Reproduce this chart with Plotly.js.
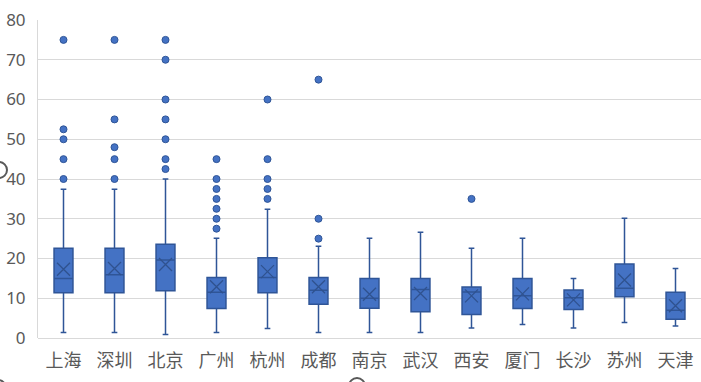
<!DOCTYPE html>
<html>
<head>
<meta charset="utf-8">
<script src="https://cdn.plot.ly/plotly-3.0.1.min.js"></script>
<style>html,body{margin:0;padding:0;background:#fff;}#chart{width:701px;height:382px;}</style>
</head>
<body>
<div id="chart"></div>
<script>
const cities = ["上海","深圳","北京","广州","杭州","成都","南京","武汉","西安","厦门","长沙","苏州","天津"];
const lowerFence = [1.4, 1.4, 0.9, 1.4, 2.4, 1.4, 1.4, 1.4, 2.5, 3.4, 2.5, 3.9, 3.0];
const q1Values   = [11.4, 11.4, 11.9, 7.4, 11.4, 8.5, 7.5, 6.6, 5.9, 7.4, 7.2, 10.4, 4.7];
const medians    = [15.0, 15.9, 19.6, 11.5, 15.2, 12.0, 10.0, 12.2, 11.6, 10.6, 10.1, 12.5, 7.0];
const q3Values   = [22.6, 22.6, 23.6, 15.2, 20.2, 15.2, 15.0, 15.0, 12.8, 15.0, 12.1, 18.6, 11.5];
const upperFence = [37.4, 37.4, 40.0, 25.1, 32.4, 23.1, 25.1, 26.6, 22.6, 25.1, 15.0, 30.1, 17.5];
const means      = [17.3, 17.5, 18.5, 12.9, 16.7, 12.9, 11.0, 11.2, 10.6, 11.1, 9.6, 14.6, 8.1];
const outliers   = [
  [75, 52.5, 50, 45, 40],
  [75, 55, 48, 45, 40],
  [75, 70, 60, 55, 50, 45, 42.5],
  [45, 40, 37.5, 35, 32.5, 30, 27.5],
  [60, 45, 40, 37.5, 35],
  [65, 30, 25],
  [], [], [35], [], [], [], []
];
const yTicks = [0, 10, 20, 30, 40, 50, 60, 70, 80];

const outX = [], outY = [];
outliers.forEach((arr, i) => arr.forEach(v => { outX.push(cities[i]); outY.push(v); }));

const traces = [
  {
    type: 'box',
    x: cities,
    q1: q1Values, median: medians, q3: q3Values,
    lowerfence: lowerFence, upperfence: upperFence,
    boxpoints: false,
    fillcolor: '#4472C4',
    line: {color: '#2F5597', width: 1.5},
    whiskerwidth: 0.3,
    hoverinfo: 'skip',
    showlegend: false
  },
  {
    type: 'scatter', mode: 'markers',
    x: cities, y: means,
    marker: {symbol: 'x-thin-open', size: 13, color: '#2F528F', line: {color: '#2F528F', width: 1.3}},
    hoverinfo: 'skip', showlegend: false
  },
  {
    type: 'scatter', mode: 'markers',
    x: outX, y: outY,
    marker: {symbol: 'circle', size: 7, color: '#4472C4', line: {color: '#2F5597', width: 1}},
    hoverinfo: 'skip', showlegend: false
  }
];

const L = 38, T = 20, W = 663, H = 318;
function px(x) { return (x - L) / W; }
function py(y) { return (T + H - y) / H; }
function handle(cx, cy, r) {
  return {type: 'circle', xref: 'paper', yref: 'paper',
    x0: px(cx - r), x1: px(cx + r), y0: py(cy + r), y1: py(cy - r),
    fillcolor: 'white', line: {color: '#595959', width: 2}};
}

const layout = {
  width: 701, height: 382,
  margin: {l: L, r: 0, t: T, b: 382 - T - H, pad: 0},
  paper_bgcolor: '#ffffff', plot_bgcolor: '#ffffff',
  boxgap: 0.47,
  showlegend: false,
  xaxis: {
    type: 'category', categoryarray: cities, range: [-0.5, 12.5],
    showgrid: false, zeroline: false, showline: false, ticks: '',
    tickfont: {family: '"Noto Sans CJK SC", sans-serif', size: 18, color: '#595959'},
    ticklabelstandoff: 10, fixedrange: true
  },
  yaxis: {
    range: [0, 80], tickvals: yTicks, ticktext: yTicks.map(String),
    showgrid: true, gridcolor: '#D9D9D9', gridwidth: 1,
    zeroline: true, zerolinecolor: '#D9D9D9', zerolinewidth: 1,
    showline: true, linecolor: '#D9D9D9', linewidth: 1, ticks: '',
    tickfont: {family: '"Noto Sans", sans-serif', size: 17, color: '#595959'},
    ticklabelstandoff: 8, fixedrange: true
  },
  shapes: [handle(-1, 170, 8), handle(357, 386, 8), handle(-2, 388, 8)]
};

Plotly.newPlot('chart', traces, layout, {displayModeBar: false, staticPlot: true});
</script>
</body>
</html>
